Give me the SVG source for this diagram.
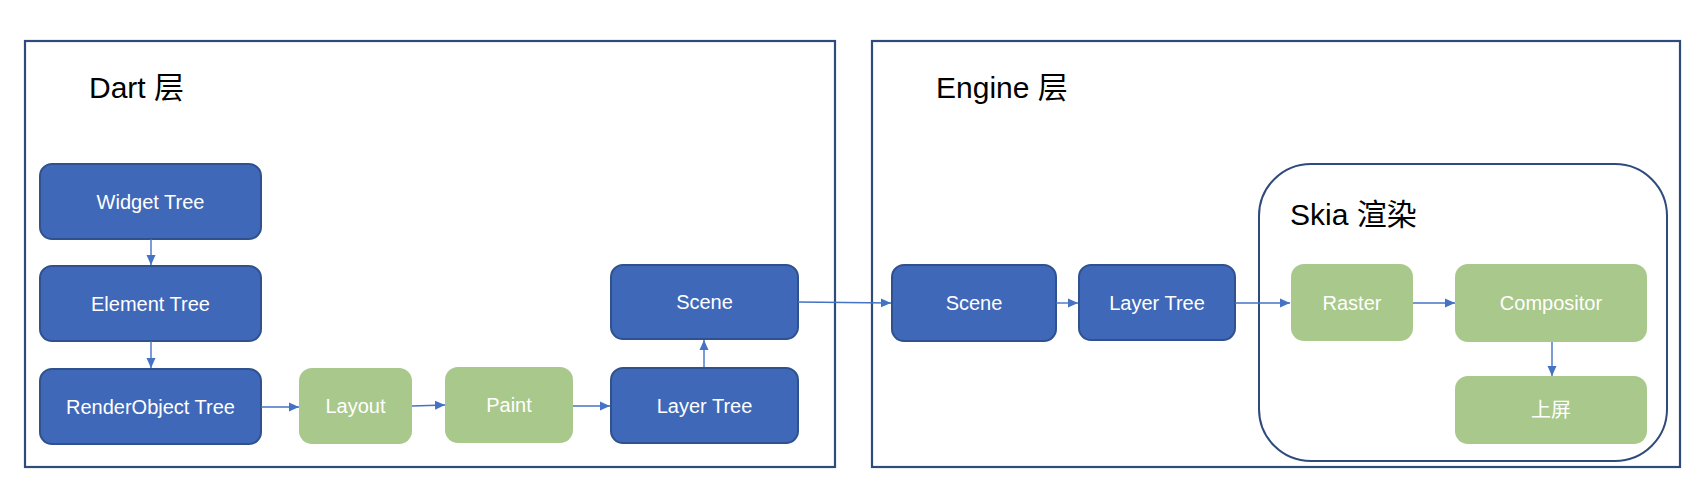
<svg xmlns="http://www.w3.org/2000/svg" width="1703" height="495" viewBox="0 0 1703 495">
<defs>
<marker id="arr" markerUnits="userSpaceOnUse" markerWidth="10" markerHeight="10" viewBox="0 0 10 10" refX="10" refY="5" orient="auto">
<path d="M0,0.5 L10,5 L0,9.5 Z" fill="#4472C4"/>
</marker>
<style>
.frame{fill:#fff;stroke:#2F4B7C;stroke-width:2.2}
.blue{fill:#4068B8;stroke:#2F528F;stroke-width:2}
.green{fill:#A9C88B;stroke:none}
.lbl{font-family:"Liberation Sans","Noto Sans CJK SC",sans-serif;font-size:20px;fill:#fff;text-anchor:middle;dominant-baseline:central}
.title{font-family:"Liberation Sans","Noto Sans CJK SC",sans-serif;font-size:30px;fill:#000}
.conn{stroke:#4472C4;stroke-width:1.4;fill:none;marker-end:url(#arr)}
</style>
</defs>
<rect width="1703" height="495" fill="#fff"/>

<g id="dart-layer">
<rect class="frame" x="25" y="41" width="810" height="426"/>
<text class="title" x="89" y="98">Dart 层</text>
</g>
<g id="engine-layer">
<rect class="frame" x="872" y="41" width="808" height="426"/>
<text class="title" x="936" y="98">Engine 层</text>
</g>
<g id="skia">
<rect x="1259" y="164" width="408" height="297" rx="52" ry="52" fill="none" stroke="#2F4B7C" stroke-width="2"/>
<text class="title" x="1290" y="225">Skia 渲染</text>
</g>

<g id="widget-tree">
<rect class="blue" x="40" y="164" width="221" height="75" rx="12"/>
<text class="lbl" x="150.5" y="201.5">Widget Tree</text>
</g>
<g id="element-tree">
<rect class="blue" x="40" y="266" width="221" height="75" rx="12"/>
<text class="lbl" x="150.5" y="303.5">Element Tree</text>
</g>
<g id="renderobject-tree">
<rect class="blue" x="40" y="369" width="221" height="75" rx="12"/>
<text class="lbl" x="150.5" y="406.5">RenderObject Tree</text>
</g>
<g id="layout">
<rect class="green" x="299" y="368" width="113" height="76" rx="13"/>
<text class="lbl" x="355.5" y="406">Layout</text>
</g>
<g id="paint">
<rect class="green" x="445" y="367" width="128" height="76" rx="13"/>
<text class="lbl" x="509" y="405">Paint</text>
</g>
<g id="dart-layer-tree">
<rect class="blue" x="611" y="368" width="187" height="75" rx="12"/>
<text class="lbl" x="704.5" y="405.5">Layer Tree</text>
</g>
<g id="dart-scene">
<rect class="blue" x="611" y="265" width="187" height="74" rx="12"/>
<text class="lbl" x="704.5" y="302">Scene</text>
</g>

<g id="engine-scene">
<rect class="blue" x="892" y="265" width="164" height="76" rx="12"/>
<text class="lbl" x="974" y="303">Scene</text>
</g>
<g id="engine-layer-tree">
<rect class="blue" x="1079" y="265" width="156" height="75" rx="12"/>
<text class="lbl" x="1157" y="302.5">Layer Tree</text>
</g>
<g id="raster">
<rect class="green" x="1291" y="264" width="122" height="77" rx="13"/>
<text class="lbl" x="1352" y="302.5">Raster</text>
</g>
<g id="compositor">
<rect class="green" x="1455" y="264" width="192" height="78" rx="13"/>
<text class="lbl" x="1551" y="303">Compositor</text>
</g>
<g id="onscreen">
<rect class="green" x="1455" y="376" width="192" height="68" rx="13"/>
<text class="lbl" x="1551" y="410">上屏</text>
</g>

<g id="connectors">
<line class="conn" x1="151" y1="239" x2="151" y2="265"/>
<line class="conn" x1="151" y1="341" x2="151" y2="368"/>
<line class="conn" x1="261" y1="407" x2="299" y2="407"/>
<line class="conn" x1="412" y1="406" x2="445" y2="405"/>
<line class="conn" x1="573" y1="406" x2="610" y2="406"/>
<line class="conn" x1="704" y1="367" x2="704" y2="340"/>
<line class="conn" x1="798" y1="302" x2="891" y2="303"/>
<line class="conn" x1="1056" y1="303" x2="1078" y2="303"/>
<line class="conn" x1="1235" y1="303" x2="1290" y2="303"/>
<line class="conn" x1="1413" y1="303" x2="1455" y2="303"/>
<line class="conn" x1="1552" y1="342" x2="1552" y2="376"/>
</g>
</svg>
